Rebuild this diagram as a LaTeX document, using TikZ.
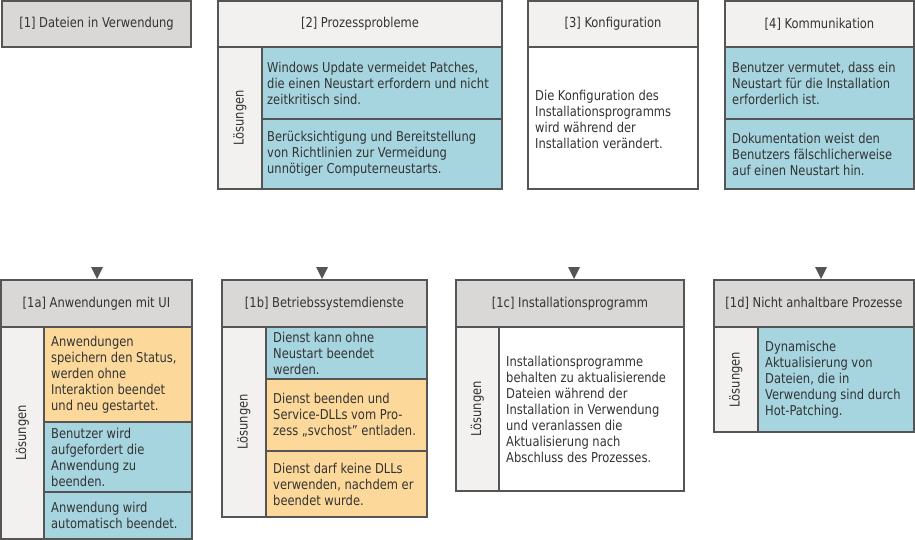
\documentclass[tikz,border=0pt]{standalone}
\usepackage{fontspec}
\setmainfont{DejaVu Sans Condensed}[FakeStretch=0.94]
\definecolor{linec}{HTML}{555555}
\definecolor{txtc}{HTML}{333333}
\definecolor{hgray}{HTML}{D9D8D6}
\definecolor{hlight}{HTML}{F2F1EF}
\definecolor{cblue}{HTML}{A6D5DF}
\definecolor{corange}{HTML}{FCD99B}
\begin{document}
\begin{tikzpicture}[x=1pt,y=-1pt,
  frame/.style={draw=linec, line width=1.2pt},
  gfill/.style={frame, fill=hgray},
  lfill/.style={frame, fill=hlight},
  bfill/.style={frame, fill=cblue},
  ofill/.style={frame, fill=corange},
  wfill/.style={frame, fill=white},
  txt/.style={text=txtc, font=\fontsize{13.6}{16}\selectfont, inner sep=0pt},
  body/.style={txt, align=left, anchor=west},
  head/.style={txt, anchor=center},
  loes/.style={txt, anchor=center, rotate=90},
  tri/.style={fill=linec}
]
\useasboundingbox (0,0) rectangle (915,540);

% ---------- [1]
\path[gfill] (2,1) rectangle (191,47);
\node[head] (h1) at (96.5,24) {[1] Dateien in Verwendung};

% ---------- [2]
\path[lfill] (218,1) rectangle (502,47);
\path[lfill] (218,47) rectangle (262,189);
\path[bfill] (262,47) rectangle (502,119);
\path[bfill] (262,119) rectangle (502,189);
\node[head] (h2) at (360,24) {[2] Prozessprobleme};
\node[loes] (l2) at (240,118) {Lösungen};
\node[body] (t2a) at (267,83) {Windows Update vermeidet Patches,\\die einen Neustart erfordern und nicht\\zeitkritisch sind.};
\node[body] (t2b) at (267,154) {Berücksichtigung und Bereitstellung\\von Richtlinien zur Vermeidung\\unnötiger Computerneustarts.};

% ---------- [3]
\path[lfill] (528,1) rectangle (698,47);
\path[wfill] (528,47) rectangle (698,189);
\node[head] (h3) at (613,24) {[3] Konfiguration};
\node[body] (t3) at (535,119) {Die Konfiguration des\\Installationsprogramms\\wird während der\\Installation verändert.};

% ---------- [4]
\path[lfill] (725,1) rectangle (914,47);
\path[bfill] (725,47) rectangle (914,119);
\path[bfill] (725,119) rectangle (914,189);
\node[head] (h4) at (819.5,24) {[4] Kommunikation};
\node[body] (t4a) at (732,83) {Benutzer vermutet, dass ein\\Neustart für die Installation\\erforderlich ist.};
\node[body] (t4b) at (732,154) {Dokumentation weist den\\Benutzers fälschlicherweise\\auf einen Neustart hin.};

% ---------- [1a]
\fill[tri] (91,267) -- (103,267) -- (97,279) -- cycle;
\path[gfill] (1,280) rectangle (192,327);
\path[lfill] (1,327) rectangle (44,539);
\path[ofill] (44,327) rectangle (192,422);
\path[bfill] (44,422) rectangle (192,492);
\path[bfill] (44,492) rectangle (192,539);
\node[head] (h1a) at (96.5,303.5) {[1a] Anwendungen mit UI};
\node[loes] (l1a) at (22.5,433) {Lösungen};
\node[body] (t1a1) at (51,374.5) {Anwendungen\\speichern den Status,\\werden ohne\\Interaktion beendet\\und neu gestartet.};
\node[body] (t1a2) at (51,457) {Benutzer wird\\aufgefordert die\\Anwendung zu\\beenden.};
\node[body] (t1a3) at (51,515.5) {Anwendung wird\\automatisch beendet.};

% ---------- [1b]
\fill[tri] (316,267) -- (328,267) -- (322,279) -- cycle;
\path[gfill] (222,280) rectangle (427,327);
\path[lfill] (222,327) rectangle (266,517);
\path[bfill] (266,327) rectangle (427,379);
\path[ofill] (266,379) rectangle (427,451);
\path[ofill] (266,451) rectangle (427,517);
\node[head] (h1b) at (324.5,303.5) {[1b] Betriebssystemdienste};
\node[loes] (l1b) at (244,422) {Lösungen};
\node[body] (t1b1) at (273,353) {Dienst kann ohne\\Neustart beendet\\werden.};
\node[body] (t1b2) at (273,415) {Dienst beenden und\\Service-DLLs vom Pro-\\zess „svchost” entladen.};
\node[body] (t1b3) at (273,484) {Dienst darf keine DLLs\\verwenden, nachdem er\\beendet wurde.};

% ---------- [1c]
\fill[tri] (568,267) -- (580,267) -- (574,279) -- cycle;
\path[gfill] (456,280) rectangle (684,327);
\path[lfill] (456,327) rectangle (499,491);
\path[wfill] (499,327) rectangle (684,491);
\node[head] (h1c) at (570,303.5) {[1c] Installationsprogramm};
\node[loes] (l1c) at (477.5,409) {Lösungen};
\node[body] (t1c) at (506,409) {Installationsprogramme\\behalten zu aktualisierende\\Dateien während der\\Installation in Verwendung\\und veranlassen die\\Aktualisierung nach\\Abschluss des Prozesses.};

% ---------- [1d]
\fill[tri] (815,267) -- (827,267) -- (821,279) -- cycle;
\path[gfill] (714,280) rectangle (914,327);
\path[lfill] (714,327) rectangle (758,432);
\path[bfill] (758,327) rectangle (914,432);
\node[head] (h1d) at (814,303.5) {[1d] Nicht anhaltbare Prozesse};
\node[loes] (l1d) at (736,379.5) {Lösungen};
\node[body] (t1d) at (765,379.5) {Dynamische\\Aktualisierung von\\Dateien, die in\\Verwendung sind durch\\Hot-Patching.};
\end{tikzpicture}
\end{document}
